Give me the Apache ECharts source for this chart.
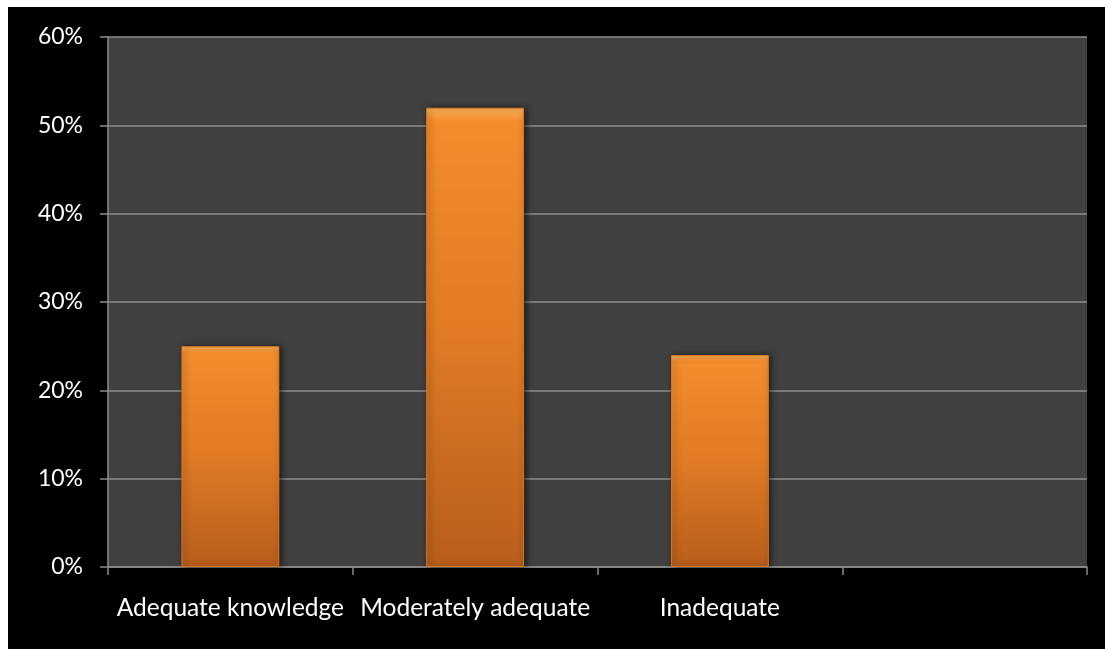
<!DOCTYPE html>
<html>
<head>
<meta charset="utf-8">
<script src="https://cdn.jsdelivr.net/npm/echarts@6/dist/echarts.min.js"></script>
<style>
  html, body { margin: 0; padding: 0; background: #ffffff; width: 1105px; height: 649px; overflow: hidden; }
  #chart { position: absolute; left: 8px; top: 7px; width: 1097px; height: 642px; background: #000000; }
</style>
</head>
<body>
<div id="chart"></div>
<script>
const categories = ['Adequate knowledge', 'Moderately adequate', 'Inadequate', ''];
const percentValues = [25, 52, 24, null];
const yTicks = { min: 0, max: 60, interval: 10 };

const chart = echarts.init(document.getElementById('chart'));
chart.setOption({
  backgroundColor: '#000000',
  animation: false,
  grid: {
    left: 100, right: 18, top: 30, bottom: 82,
    show: true, backgroundColor: '#404040', borderWidth: 0
  },
  xAxis: {
    type: 'category',
    data: categories,
    axisLine: { lineStyle: { color: '#8c8c8c', width: 1.5 } },
    axisTick: { show: true, alignWithLabel: false, length: 8, lineStyle: { color: '#8c8c8c', width: 1.5 } },
    axisLabel: { color: '#ffffff', fontFamily: 'Lato', fontSize: 24.5, margin: 29, interval: 0 },
    splitLine: { show: false }
  },
  yAxis: {
    type: 'value',
    min: yTicks.min, max: yTicks.max, interval: yTicks.interval,
    axisLine: { show: true, lineStyle: { color: '#8c8c8c', width: 1.5 } },
    axisTick: { show: true, length: 8, lineStyle: { color: '#8c8c8c', width: 1.5 } },
    axisLabel: { color: '#ffffff', fontFamily: 'Lato', fontSize: 23, margin: 25, formatter: '{value}%' },
    splitLine: { show: true, lineStyle: { color: '#8c8c8c', width: 1.5 } }
  },
  series: [{
    type: 'bar',
    data: percentValues,
    barWidth: '40%',
    itemStyle: {
      color: new echarts.graphic.LinearGradient(0, 0, 0, 1, [
        { offset: 0, color: '#FBB15A' },
        { offset: 0.03, color: '#F28C2C' },
        { offset: 0.5, color: '#E07A24' },
        { offset: 1, color: '#B85E1C' }
      ]),
      borderColor: '#D8761F',
      borderWidth: 1,
      shadowColor: 'rgba(0,0,0,0.6)',
      shadowBlur: 6,
      shadowOffsetX: 2,
      shadowOffsetY: 0
    }
  }]
});
</script>
</body>
</html>
